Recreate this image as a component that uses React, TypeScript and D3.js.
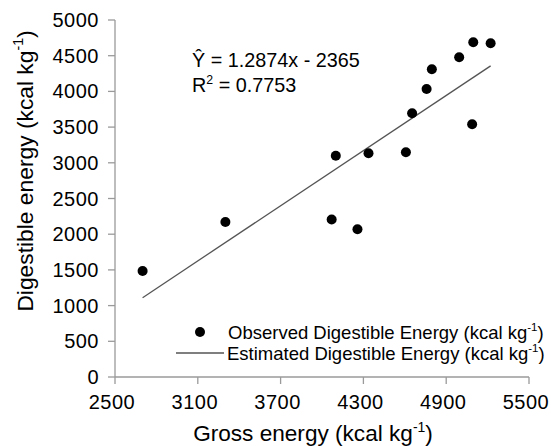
import React from "react";
import * as d3 from "d3";

// Gross energy (x) vs. observed digestible energy (y), kcal/kg
const grossEnergy = [2700, 3300, 4070, 4100, 4257, 4337, 4608, 4653, 4758, 4796, 4994, 5088, 5096, 5222];
const digestibleEnergy = [1485, 2170, 2205, 3099, 2069, 3133, 3147, 3693, 4034, 4310, 4478, 3539, 4688, 4674];

const xTicks = [2500, 3100, 3700, 4300, 4900, 5500];
const yTicks = [0, 500, 1000, 1500, 2000, 2500, 3000, 3500, 4000, 4500, 5000];

const slope = 1.2874;
const intercept = -2365;
const rSquared = 0.7753;

const W = 551;
const H = 446;
const FONT = "'Liberation Sans', Arial, sans-serif";

function T({ x, y, anchor = "start", size = 18.5, spacing = 0, children }: any) {
  return (
    <text
      x={x}
      y={y}
      textAnchor={anchor}
      fontFamily={FONT}
      fontSize={size}
      letterSpacing={spacing}
      fill="#000"
    >
      {children}
    </text>
  );
}

function Unit({ size }: { size: number }) {
  const sup = size * 0.62;
  const lift = size * 0.42;
  return (
    <>
      <tspan>(kcal kg</tspan>
      <tspan fontSize={sup} dy={-lift}>-1</tspan>
      <tspan dy={lift}>)</tspan>
    </>
  );
}

export default function App() {
  const x = d3.scaleLinear().domain([2500, 5500]).range([115, 529]);
  const y = d3.scaleLinear().domain([0, 5000]).range([377, 20]);

  const [xmin, xmax] = d3.extent(grossEnergy) as [number, number];
  const fit = d3
    .line<number>()
    .x((d) => x(d))
    .y((d) => y(slope * d + intercept));

  const axisColor = "#9a9a9a";

  return (
    <svg
      width={W}
      height={H}
      style={{ position: "fixed", left: 0, top: 0, background: "#fff" }}
    >
      <rect width={W} height={H} fill="#fff" />

      {/* axes */}
      <line x1={x(2500)} x2={x(5500)} y1={y(0)} y2={y(0)} stroke={axisColor} strokeWidth={1.3} />
      <line x1={x(2500)} x2={x(2500)} y1={y(0)} y2={y(5000)} stroke={axisColor} strokeWidth={1.3} />
      {xTicks.map((t) => (
        <g key={"xt" + t}>
          <line x1={x(t)} x2={x(t)} y1={y(0)} y2={y(0) + 7} stroke={axisColor} strokeWidth={1.3} />
          <T x={x(t) - 3} y={409} anchor="middle" size={20} spacing={0.5}>{t}</T>
        </g>
      ))}
      {yTicks.map((t) => (
        <g key={"yt" + t}>
          <line x1={x(2500) - 7} x2={x(2500)} y1={y(t)} y2={y(t)} stroke={axisColor} strokeWidth={1.3} />
          <T x={99} y={y(t) + 7} anchor="end" size={20} spacing={0.5}>{t}</T>
        </g>
      ))}

      {/* regression line */}
      <path d={fit([xmin, xmax]) || ""} stroke="#555" strokeWidth={1.3} fill="none" />

      {/* observations */}
      {grossEnergy.map((g, i) => (
        <circle key={i} cx={x(g)} cy={y(digestibleEnergy[i])} r={5} fill="#000" />
      ))}

      {/* equation */}
      <T x={192} y={67} size={19.8}>{`Ŷ = ${slope}x - ${-intercept}`}</T>
      <T x={192} y={92} size={19.8}>
        <tspan>R</tspan>
        <tspan fontSize={12.3} dy={-8.5}>2</tspan>
        <tspan dy={8.5}>{` = ${rSquared}`}</tspan>
      </T>

      {/* legend */}
      <circle cx={200} cy={332} r={5} fill="#000" />
      <T x={228} y={339}>
        <tspan>Observed Digestible Energy </tspan>
        <Unit size={18.5} />
      </T>
      <line x1={176} x2={224} y1={353} y2={353} stroke="#555" strokeWidth={1.3} />
      <T x={227} y={360}>
        <tspan>Estimated Digestible Energy </tspan>
        <Unit size={18.5} />
      </T>

      {/* axis titles */}
      <T x={313} y={441} anchor="middle" size={22.6}>
        <tspan>Gross energy </tspan>
        <Unit size={22.6} />
      </T>
      <g transform="translate(33,171) rotate(-90)">
        <T x={0} y={0} anchor="middle" size={22.8}>
          <tspan>Digestible energy </tspan>
          <Unit size={22.8} />
        </T>
      </g>
    </svg>
  );
}
